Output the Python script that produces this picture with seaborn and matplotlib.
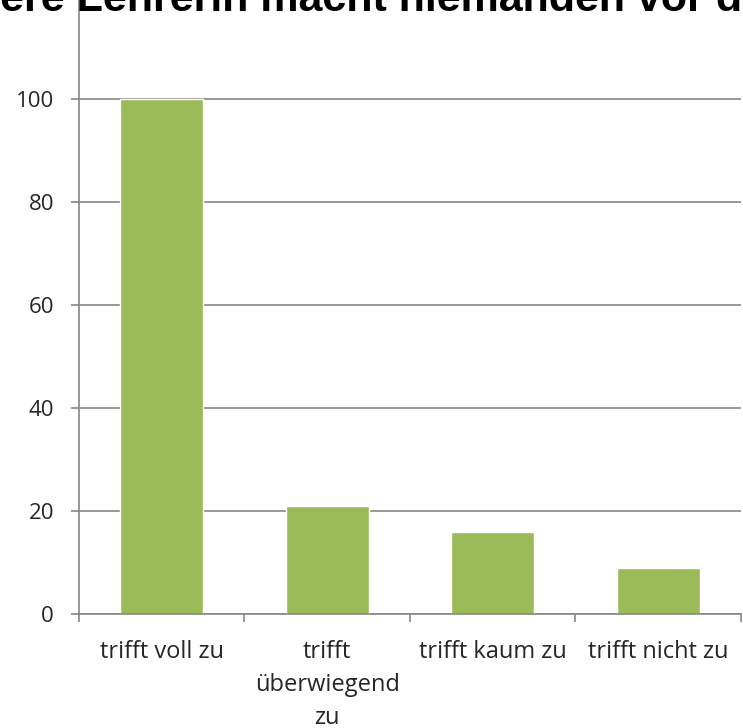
import matplotlib
matplotlib.use('Agg')
import matplotlib.pyplot as plt
import seaborn as sns
import pandas as pd
from matplotlib.ticker import FixedLocator

# data
categories = ['trifft voll zu', 'trifft\nüberwiegend\nzu', 'trifft kaum zu', 'trifft nicht zu']
values = [100, 21, 16, 9]
yticks = [0, 20, 40, 60, 80, 100]
title_start = 'Unsere '
title_rest = 'Lehrerin macht niemanden vor der Klasse lächerlich'

df = pd.DataFrame({'cat': categories, 'val': values})

sns.set_style('white')
plt.rcParams['font.family'] = ['Open Sans', 'DejaVu Sans']

grey = '#868686'

fig = plt.figure(figsize=(7.43, 7.28), dpi=100)
ax = fig.add_axes([0.1063, 0.1566, 0.891, 0.849])

sns.barplot(ax=ax, data=df, x='cat', y='val', color='#9BBB59',
            width=0.5, saturation=1)

ax.set_ylim(0, 120)
ax.set_xlim(-0.5, 3.5)
ax.set_yticks(yticks)
ax.set_yticklabels([str(v) for v in yticks], fontsize=16)
ax.yaxis.grid(True, color=grey, linewidth=1.2)
ax.set_axisbelow(True)

# category boundaries as major ticks, labels on minor ticks at centres
ax.xaxis.set_major_locator(FixedLocator([-0.5, 0.5, 1.5, 2.5, 3.5]))
ax.set_xticklabels([])
ax.xaxis.set_minor_locator(FixedLocator(range(len(categories))))
ax.set_xticklabels(categories, minor=True, fontsize=17, linespacing=1.5)
ax.tick_params(axis='x', which='major', length=6, width=1.2, color=grey, direction='out')
ax.tick_params(axis='x', which='minor', length=0, pad=18.5)
ax.tick_params(axis='y', length=6, width=1.2, color=grey, direction='out', pad=12)
ax.tick_params(left=True, bottom=True)

ax.set_xlabel('')
ax.set_ylabel('')
for s in ['top', 'right']:
    ax.spines[s].set_visible(False)
for s in ['left', 'bottom']:
    ax.spines[s].set_color(grey)
    ax.spines[s].set_linewidth(1.2)

# title is wider than the figure and runs off the top, as in the reference;
# shift it so "Lehrerin" starts just left of the y axis
tfont = dict(fontsize=31, fontweight='bold', family='Liberation Sans')
renderer = fig.canvas.get_renderer()
probe = fig.text(0, 0, title_start, **tfont)
w_start = probe.get_window_extent(renderer).width
probe.remove()
x0 = (77 - w_start) / 743
fig.text(x0, 1 - 11 / 728, title_start + title_rest, ha='left', va='baseline',
         color='black', **tfont)

fig.savefig('out.png', dpi=100)
